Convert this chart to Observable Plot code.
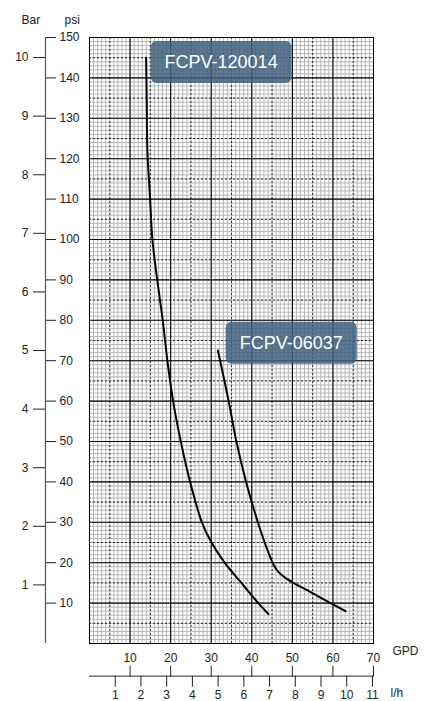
<!DOCTYPE html>
<html><head><meta charset="utf-8">
<script src="https://cdn.jsdelivr.net/npm/d3@7"></script>
<script src="https://cdn.jsdelivr.net/npm/@observablehq/plot@0.6"></script>
<style>body{margin:0;background:#fff} svg{display:block}</style>
</head><body><div id="chart"></div>
<script>
// ---- data ----
const seriesNames = ["FCPV-120014", "FCPV-06037"];
const gpd120014 = [13.95, 14.1, 14.27, 14.94, 15.5, 16.7, 18.05, 19.2, 20.6, 22.5, 24.8, 27.7, 29.8, 33.3, 37.6, 41.6, 44.1];
const psi120014 = [145, 135, 122, 110, 100, 90, 80, 70, 60, 50, 40, 30, 25.5, 20, 14.8, 10, 7.3];
const gpd06037 = [31.65, 32.2, 34.3, 36.2, 38.6, 41.5, 43.0, 44.3, 45.3, 46.5, 48.2, 50.5, 54.5, 59.4, 63.1];
const psi06037 = [72.5, 70, 60, 50, 40, 30, 25.5, 22.0, 19.6, 17.8, 16.3, 14.9, 12.7, 10.0, 8.0];
const psiTicks = [10, 20, 30, 40, 50, 60, 70, 80, 90, 100, 110, 120, 130, 140, 150];
const barTicks = [1, 2, 3, 4, 5, 6, 7, 8, 9, 10];
const gpdTicks = [10, 20, 30, 40, 50, 60, 70];
const lhTicks = [1, 2, 3, 4, 5, 6, 7, 8, 9, 10, 11];
const PSI_PER_BAR = 14.5038;
const GPD_PER_LH = 6.3401;

const s1 = gpd120014.map((g, i) => ({gpd: g, psi: psi120014[i]}));
const s2 = gpd06037.map((g, i) => ({gpd: g, psi: psi06037[i]}));

const fineX = d3.range(1, 70), fineY = d3.range(1, 150);
const midX = d3.range(5, 70, 10), midY = d3.range(5, 150, 10);
const majX = d3.range(10, 70, 10), majY = d3.range(10, 150, 10);

const svg = Plot.plot({
  width: 427, height: 701,
  marginLeft: 89, marginRight: 54, marginTop: 37, marginBottom: 58,
  x: {domain: [0, 70], axis: null, label: null},
  y: {domain: [0, 150], axis: null, label: null},
  style: {fontFamily: "Liberation Sans, Arial, Helvetica, sans-serif", fontSize: "12px", color: "#222", background: "#fff"},
  marks: [
    Plot.ruleX(fineX, {stroke: "#b0b0b0", strokeWidth: 0.9}),
    Plot.ruleY(fineY, {stroke: "#b0b0b0", strokeWidth: 0.9}),
    Plot.ruleX(midX, {stroke: "#333", strokeWidth: 1, strokeDasharray: "2,2"}),
    Plot.ruleY(midY, {stroke: "#333", strokeWidth: 1, strokeDasharray: "2,2"}),
    Plot.ruleX(majX, {stroke: "#000", strokeWidth: 1.1}),
    Plot.ruleY(majY, {stroke: "#000", strokeWidth: 1.1}),
    Plot.frame({stroke: "#000", strokeWidth: 1}),
    Plot.line(s1, {x: "gpd", y: "psi", curve: "catmull-rom", stroke: "#000", strokeWidth: 2}),
    Plot.line(s2, {x: "gpd", y: "psi", curve: "catmull-rom", stroke: "#000", strokeWidth: 2}),
    // psi axis
    Plot.ruleX([0], {dx: -44, stroke: "#555", strokeWidth: 1.2}),
    Plot.axisY(psiTicks, {anchor: "right", label: null, dx: -328, tickSize: 10, tickPadding: 4, fontSize: 12}),
    // bar axis
    Plot.axisY(barTicks.map(b => b * PSI_PER_BAR), {anchor: "left", label: null, dx: -44, tickSize: 12, tickPadding: 5, fontSize: 12,
      tickFormat: d => String(Math.round(d / PSI_PER_BAR))}),
    // bottom axes
    Plot.ruleY([0], {dy: 32.7, stroke: "#555", strokeWidth: 1.2}),
    Plot.axisX(gpdTicks, {anchor: "top", label: null, dy: 638.7, tickSize: 11, tickPadding: 3, fontSize: 12}),
    Plot.axisX(lhTicks.map(l => l * GPD_PER_LH), {anchor: "bottom", label: null, dy: 32.7, tickSize: 11, tickPadding: 3, fontSize: 12,
      tickFormat: d => String(Math.round(d / GPD_PER_LH))}),
    // unit labels
    Plot.text(["Bar"], {text: d => d, frameAnchor: "top-left", dx: -68, dy: -22, fontSize: 12}),
    Plot.text(["psi"], {text: d => d, frameAnchor: "top-left", dx: -25, dy: -22, fontSize: 12}),
    Plot.text(["GPD"], {text: d => d, frameAnchor: "bottom-right", dx: 19, dy: 11, textAnchor: "start", fontSize: 12}),
    Plot.text(["l/h"], {text: d => d, frameAnchor: "bottom-right", dx: 17, dy: 53, textAnchor: "start", fontSize: 12}),
    // series labels
    Plot.text([s1[0]], {x: "gpd", y: "psi", text: () => seriesNames[0], dx: 75, dy: 4.5, fill: "#fff", fontSize: 18}),
    Plot.text([s2[0]], {x: "gpd", y: "psi", text: () => seriesNames[1], dx: 73.3, dy: -7.7, fill: "#fff", fontSize: 18})
  ]
});
document.getElementById("chart").append(svg);
Array.from(svg.querySelectorAll("text"))
  .filter(t => seriesNames.includes(t.textContent.trim()))
  .forEach(t => {
    const b = t.getBBox();
    const r = document.createElementNS("http://www.w3.org/2000/svg", "rect");
    const padX = 14, h = 42;
    r.setAttribute("x", b.x - padX);
    r.setAttribute("y", b.y + b.height / 2 - h / 2);
    r.setAttribute("width", b.width + 2 * padX);
    r.setAttribute("height", h);
    r.setAttribute("rx", 6);
    r.setAttribute("fill", "#3f6080");
    r.setAttribute("fill-opacity", 0.85);
    r.setAttribute("stroke", "none");
    if (t.getAttribute("transform")) r.setAttribute("transform", t.getAttribute("transform"));
    t.parentNode.insertBefore(r, t);
  });
</script>
</body></html>
